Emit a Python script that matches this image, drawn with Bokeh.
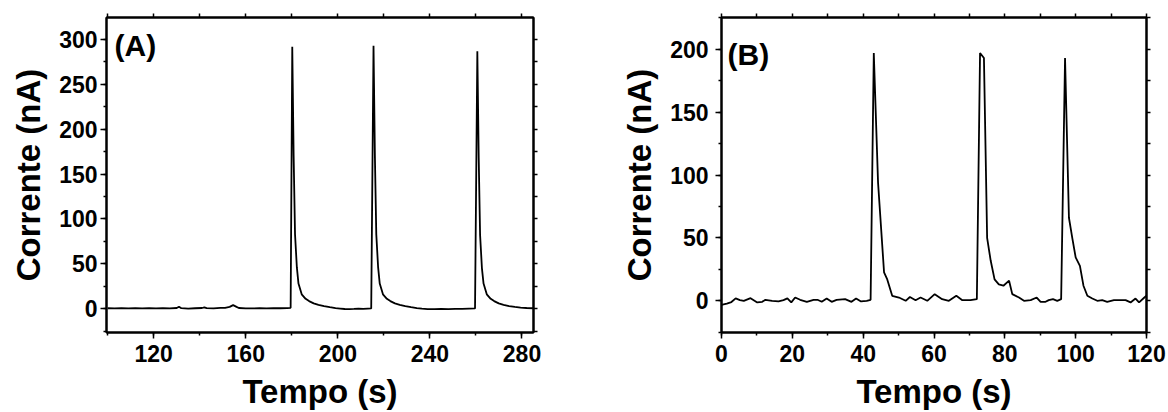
from bokeh.plotting import figure
from bokeh.layouts import row
from bokeh.models import LinearAxis, Label, Range1d, SingleIntervalTicker, FixedTicker
from bokeh.embed import file_html
from bokeh.resources import INLINE

# (A) amperometric response, time in s, current in nA
time_a = [100, 103, 106, 109, 112, 115, 118, 121, 124, 127, 130, 131, 132, 135, 138,
          141, 142, 143, 146, 149, 151, 153, 154.5, 156, 157, 160, 163, 166, 169, 172,
          175, 178, 179.5,
          180.2, 180.8, 181.4, 182.2, 182.9, 184.3, 186, 187.5, 189.5, 191.6, 194, 196.5,
          199, 201, 203, 205, 207, 209, 211, 213, 214.5,
          215.5, 216.1, 216.7, 217.5, 218.2, 219.6, 221.3, 222.8, 224.8, 226.9, 229.3,
          231.8, 234.3, 236.5, 239, 242, 245, 248, 251, 254, 257, 259.6,
          260.6, 261.2, 261.8, 262.6, 263.3, 264.7, 266.4, 267.9, 269.9, 272, 274.4,
          276.9, 279.4, 282, 285]
current_a = [0.5, 0.3, 0.6, 0.4, 0.5, 0.3, 0.6, 0.4, 0.5, 0.3, 0.8, 2.2, 0.6, 0.2, 0.5,
             0.8, 1.5, 0.6, 0.4, 0.9, 1.0, 2.0, 4.0, 2.0, 0.8, 0.4, 0.3, 0.5, 0.4, 0.6,
             0.5, 0.7, 1.0,
             292, 170, 83, 46, 28, 16, 11, 8.5, 6, 4.4, 3, 1.8,
             0.7, 0.2, -0.3, -0.4, -0.2, 0.1, -0.1, 0.2, 0.3,
             293, 170, 83, 46, 28, 16, 11, 8.5, 6, 4.4, 3,
             1.8, 0.7, 0.0, -0.4, -0.5, -0.3, -0.4, -0.2, -0.1, 0.2, 0.3,
             287, 168, 82, 45, 28, 16, 11, 8.5, 6, 4.4, 3,
             2.0, 1.3, 0.8, 0.5]

# (B) amperometric response, time in s, current in nA
time_b = [0, 1.5, 2.8, 4, 5.2, 6.3, 8.2, 10.1, 11.5, 12.4, 14.3, 16.1, 17.5, 18.6, 19.7,
          20.8, 22.2, 24.1, 26, 27.1, 28.3, 29.7, 31.1, 32.5, 34.9, 36.7, 38, 39.4, 41,
          42.1,
          43.0, 44.2, 45.9, 46.8, 48.2, 50.1, 52, 53.2, 54.8, 56.2, 58.1, 60.2, 62.3,
          64.2, 66.3, 68, 70.3, 72.1,
          73.0, 74.1, 75.0, 76.0, 77.1, 78.3, 79.6, 81.2, 82.1, 84, 85.4, 87.3, 89,
          90.1, 91.5, 92.4, 93.6, 94.8, 95.9,
          97.0, 98.1, 99.1, 100, 101.2, 102.2, 103.3, 104.7, 106.1, 107.5, 108.9, 110.8,
          112.5, 114.1, 115.5, 116.9, 117.9, 119.4, 120]
current_b = [-3.2, -2.2, -1.0, 1.9, 0.6, 0.0, 2.1, -1.3, -0.8, 0.8, 0.0, -0.5, 0.5, 1.9,
             -1.3, 2.6, 0.8, -0.8, 0.8, 0.8, -0.8, 1.9, -0.8, 0.8, 1.3, -0.8, 1.9, -0.5,
             0.0, 0.8,
             197, 94, 22.5, 17, 4, 2.6, 0.0, 3, 0.5, 2.6, 0.0, 5.3, 1.3,
             0.0, 4, 0.5, 0.5, 1.3,
             197, 193, 50, 32, 17, 13, 12, 16, 5.3, 2.6, 0.0, 0.5, 2.6,
             -0.8, -0.8, 0.5, 1.3, 0.0, 1.3,
             193, 66, 49, 34.5, 27.8, 12, 4, 1.8, 0.0, 0.5, -0.8, 0.5,
             0.5, 0.5, -1.3, 1.8, -1.3, 2.6, 4]

# tick spacing: labelled step and the unlabelled step between them
ticks_a_x = (40, 20)
ticks_a_y = (50, 25)
ticks_b_x = (20, 10)
ticks_b_y = (50, 25)

FONT = "Liberation Sans"


def base_axis(ax):
    ax.axis_line_width = 2
    ax.axis_line_color = "black"
    ax.major_tick_line_width = 1.5
    ax.minor_tick_line_width = 1.5
    ax.major_tick_out = 6
    ax.major_tick_in = 0
    ax.minor_tick_out = 3
    ax.minor_tick_in = 0


def labelled_axis(ax, major, label_standoff):
    base_axis(ax)
    ax.ticker = SingleIntervalTicker(interval=major, num_minor_ticks=2)
    ax.major_label_text_font = FONT
    ax.major_label_text_font_style = "bold"
    ax.major_label_text_color = "black"
    ax.major_label_text_font_size = "23px"
    ax.major_label_standoff = label_standoff
    ax.axis_label_text_font = FONT
    ax.axis_label_text_font_style = "bold"
    ax.axis_label_text_font_size = "33px"
    ax.axis_label_text_color = "black"


def mirror_axis(ax, lo, hi, step):
    # mirrored frame ticks without numbers: every position drawn as a short tick
    base_axis(ax)
    start = int(round(lo / step)) * step
    if start < lo:
        start += step
    pos = []
    v = start
    while v <= hi:
        pos.append(v)
        v += step
    ax.ticker = FixedTicker(ticks=[], minor_ticks=pos)
    ax.minor_tick_out = 4
    ax.major_label_standoff = 0


def panel(xs, ys, xr, yr, xt, yt, tag, tag_x, tag_y, width, bl, br, bt,
          ylab_standoff):
    p = figure(width=width, height=412, x_range=Range1d(*xr), y_range=Range1d(*yr),
               output_backend="svg", toolbar_location=None,
               x_axis_location=None, y_axis_location=None,
               min_border_left=bl, min_border_right=br, min_border_top=bt,
               min_border_bottom=412 - 332)
    p.grid.visible = False
    p.outline_line_color = "black"
    p.outline_line_width = 2
    p.background_fill_color = "white"
    p.border_fill_color = "white"

    bottom = LinearAxis(axis_label="Tempo (s)", axis_label_standoff=8)
    labelled_axis(bottom, xt[0], 6)
    left = LinearAxis(axis_label="Corrente (nA)", axis_label_standoff=9)
    labelled_axis(left, yt[0], ylab_standoff)
    top = LinearAxis()
    mirror_axis(top, xr[0], xr[1], xt[1])
    right = LinearAxis()
    mirror_axis(right, yr[0], yr[1], yt[1])
    p.add_layout(bottom, "below")
    p.add_layout(left, "left")
    p.add_layout(top, "above")
    p.add_layout(right, "right")

    p.line(xs, ys, line_color="black", line_width=1.8)
    p.add_layout(Label(x=tag_x, y=tag_y, text=tag, text_font=FONT,
                       text_font_style="bold", text_font_size="30px",
                       text_align="left", text_baseline="middle",
                       text_color="black"))
    return p


pa = panel(time_a, current_a, (99.5, 285), (-26.5, 324.5), ticks_a_x, ticks_a_y,
           "(A)", 103, 293, 600, 106, 67, 16, 3)
pb = panel(time_b, current_b, (0, 120), (-25.2, 225.2), ticks_b_x, ticks_b_y,
           "(B)", 1.7, 196, 568, 121, 22, 17, 7)

layout = row(pa, pb, spacing=0)
open("out.html", "w").write(file_html(layout, INLINE))
